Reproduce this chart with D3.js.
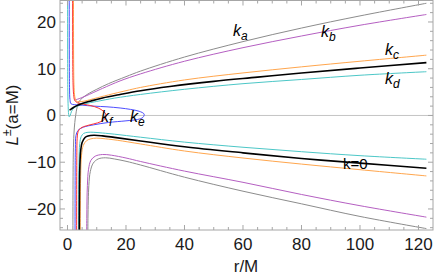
<!DOCTYPE html>
<html><head><meta charset="utf-8">
<script src="https://cdn.jsdelivr.net/npm/d3@7"></script>
<style>body{margin:0;background:#fff} svg{display:block}</style>
</head><body>
<svg id="c" width="436" height="279"></svg>
<script>
// ---- data (r/M, L) ----
const xTicks = [0, 20, 40, 60, 80, 100, 120];
const yTicks = [-20, -10, 0, 10, 20];
const xDomain = [-2.56, 124.96];
const yDomain = [-24.5, 24.7];

const kaUpper = [[1.85,-30],[1.9,-14],[2.0,-8],[2.2,-4],[2.5,-1.5],[2.8,0],[3.3,1.8],[4,3.0],[5,3.7],[7,4.6],[10,5.6],[14,6.8],[20,8.3],[25,9.5],[40,12.5],[60,15.8],[80,18.7],[100,21.3],[122.7,24.0]];
const kaLower = [[6.95,-30],[7.0,-22],[7.3,-15],[7.8,-12],[8.8,-10.2],[10.5,-9.3],[13,-9.05],[16,-9.3],[20,-9.8],[25,-10.6],[40,-13.2],[60,-16.2],[80,-18.9],[100,-21.6],[122.7,-24.2]];
const kbUpper = [[2.3,3.3],[3,3.4],[4,3.6],[6,4.1],[9,4.95],[12,5.8],[18,7.4],[25,8.9],[40,11.6],[60,14.5],[80,17.0],[100,19.3],[122.7,21.6]];
const kbLower = [[6.55,-30],[6.6,-22],[6.8,-15],[7.2,-11.5],[8,-9.6],[9.5,-8.7],[12,-8.35],[15,-8.5],[20,-9.1],[25,-9.85],[40,-11.9],[60,-14.3],[80,-16.9],[100,-19.3],[122.7,-21.75]];
const kcUpper = [[2.05,30],[2.1,12],[2.25,6],[2.5,4],[3,3.1],[4,2.95],[6,3.1],[9,3.6],[14,4.4],[20,5.3],[25,6.0],[40,7.6],[60,9.1],[80,10.4],[100,11.6],[122.7,12.9]];
const kcLower = [[4.35,-30],[4.4,-20],[4.5,-13],[4.8,-8.5],[5.4,-6.4],[6.5,-5.4],[8,-5.0],[10,-4.85],[13,-5.0],[17,-5.3],[25,-6.1],[40,-7.6],[60,-9.1],[80,-10.4],[100,-11.6],[122.7,-12.93]];
const k0Upper = [[0.7,1.15],[1.2,1.35],[2,1.7],[3,2.05],[5,2.55],[8,3.1],[12,3.75],[18,4.5],[25,5.3],[35,6.2],[50,7.3],[65,8.2],[80,9.1],[100,10.15],[122.7,11.3]];
const k0Lower = [[4.03,-30],[4.05,-22.3],[4.1,-15.9],[4.2,-11.45],[4.5,-7.6],[5,-5.8],[6,-4.72],[7,-4.39],[9,-4.23],[12,-4.36],[16,-4.68],[25,-5.46],[40,-6.7],[60,-8.0],[80,-9.2],[100,-10.2],[122.7,-11.28]];
const kdUpper = [[0.04,30],[0.06,12],[0.1,6],[0.2,2.5],[0.4,0.2],[0.6,-0.3],[0.9,0],[1.4,0.9],[2.2,1.6],[3.5,2.0],[6,2.5],[10,3.0],[16,3.7],[25,4.5],[40,5.6],[60,6.8],[80,7.7],[100,8.6],[122.7,9.36]];
const kdLower = [[3.82,-30],[3.85,-18],[3.95,-10],[4.2,-6],[4.7,-4.5],[5.5,-3.85],[7,-3.6],[9,-3.6],[12,-3.75],[16,-4.0],[25,-4.65],[40,-5.7],[60,-6.8],[80,-7.75],[100,-8.6],[122.7,-9.36]];
const keLoop = [[0.6,30],[0.63,12],[0.7,6],[0.85,3.4],[1.2,2.5],[2.5,2.3],[5,2.2],[9,2.0],[13.5,1.85],[18,1.6],[21.5,1.3],[24.5,0.9],[26.2,0.3],[25.8,-0.4],[24,-0.85],[20,-1.15],[14,-1.5],[9,-2.0],[5.5,-2.5],[3.6,-3.2],[2.9,-4.3],[2.7,-7],[2.62,-13],[2.58,-30]];
const kfLoop = [[1.75,30],[1.8,12],[1.9,7],[2.1,4.5],[2.5,3.2],[3.5,2.7],[5.5,2.4],[8,2.1],[10.5,1.6],[12.3,0.9],[13.2,0.1],[12.8,-0.7],[11.5,-1.3],[9,-1.8],[6.5,-2.2],[4.5,-2.7],[3.6,-3.5],[3.3,-5],[3.2,-8],[3.15,-14],[3.12,-30]];

const series = [
  {d: kaUpper, c: "#8c8c8c", w: 1},
  {d: kaLower, c: "#8c8c8c", w: 1},
  {d: kbUpper, c: "#b55fc2", w: 1},
  {d: kbLower, c: "#b55fc2", w: 1},
  {d: kcUpper, c: "#ffa64d", w: 1},
  {d: kcLower, c: "#ffa64d", w: 1},
  {d: kdUpper, c: "#4cc7c7", w: 1},
  {d: kdLower, c: "#4cc7c7", w: 1},
  {d: keLoop, c: "#4d4dff", w: 1},
  {d: kfLoop, c: "#ff3333", w: 1},
  {d: k0Upper, c: "#000000", w: 1.6},
  {d: k0Lower, c: "#000000", w: 1.6}
];

const labels = [
  {t: "k", s: "a", x: 233, y: 36},
  {t: "k", s: "b", x: 321, y: 37},
  {t: "k", s: "c", x: 385, y: 55},
  {t: "k", s: "d", x: 385, y: 84},
  {t: "k", s: "f", x: 101, y: 122},
  {t: "k", s: "e", x: 130, y: 122}
];

// ---- drawing ----
const svg = d3.select("#c");
const L = 60, R = 433, T = 0.5, B = 230;
const x = d3.scaleLinear().domain(xDomain).range([L, R]);
const y = d3.scaleLinear().domain(yDomain).range([B, 0]);

svg.append("defs").append("clipPath").attr("id", "clip")
  .append("rect").attr("x", L).attr("y", 0).attr("width", R - L).attr("height", B);

// zero line
svg.append("line").attr("x1", L).attr("x2", R).attr("y1", y(0)).attr("y2", y(0))
  .attr("stroke", "#c4c4c4").attr("stroke-width", 1);

const line = d3.line().x(d => x(d[0])).y(d => y(d[1])).curve(d3.curveCatmullRom.alpha(0.5));
const g = svg.append("g").attr("clip-path", "url(#clip)");
series.forEach(s => {
  g.append("path").attr("d", line(s.d)).attr("fill", "none")
    .attr("stroke", s.c).attr("stroke-width", s.w).attr("stroke-linejoin", "round");
});

// frame
const fc = "#a6a6a6";
svg.append("rect").attr("x", L).attr("y", T).attr("width", R - L).attr("height", B - T)
  .attr("fill", "none").attr("stroke", fc).attr("stroke-width", 1);

const xMinor = d3.range(0, 125, 5);
const yMinor = d3.range(-24, 25, 2);
const tk = svg.append("g").attr("stroke", fc).attr("stroke-width", 1);
xMinor.forEach(v => {
  const len = xTicks.includes(v) ? 5 : 3;
  tk.append("line").attr("x1", x(v)).attr("x2", x(v)).attr("y1", B).attr("y2", B - len);
  tk.append("line").attr("x1", x(v)).attr("x2", x(v)).attr("y1", T).attr("y2", T + len);
});
yMinor.forEach(v => {
  const len = yTicks.includes(v) ? 5 : 3;
  tk.append("line").attr("x1", L).attr("x2", L + len).attr("y1", y(v)).attr("y2", y(v));
  tk.append("line").attr("x1", R).attr("x2", R - len).attr("y1", y(v)).attr("y2", y(v));
});

const font = "'Liberation Sans', Arial, sans-serif";
const tl = svg.append("g").attr("font-family", font).attr("font-size", 17).attr("fill", "#1a1a1a");
xTicks.forEach(v => {
  tl.append("text").attr("x", x(v)).attr("y", 250).attr("text-anchor", "middle").text(v);
});
yTicks.forEach(v => {
  tl.append("text").attr("x", 56).attr("y", y(v) + 6).attr("text-anchor", "end")
    .text(v < 0 ? "\u2212" + Math.abs(v) : v);
});

// axis labels
svg.append("text").attr("x", 246).attr("y", 272).attr("text-anchor", "middle")
  .attr("font-family", font).attr("font-size", 17).attr("fill", "#1a1a1a").text("r/M");
const yl = svg.append("text").attr("transform", "translate(18,115) rotate(-90)")
  .attr("text-anchor", "middle").attr("font-family", font).attr("font-size", 17).attr("fill", "#1a1a1a");
yl.append("tspan").attr("font-style", "italic").text("L");
yl.append("tspan").attr("font-size", 12).attr("dy", -7).text("\u00b1");
yl.append("tspan").attr("dy", 7).text("(a=M)");

// curve labels
const cl = svg.append("g").attr("font-family", font).attr("fill", "#000");
labels.forEach(l => {
  const t = cl.append("text").attr("x", l.x).attr("y", l.y).attr("font-size", 16).attr("font-style", "italic");
  t.append("tspan").text(l.t);
  t.append("tspan").attr("font-size", 12).attr("dy", 4).text(l.s);
});
cl.append("text").attr("x", 343).attr("y", 169).attr("font-size", 15).text("k=0");
</script>
</body></html>
